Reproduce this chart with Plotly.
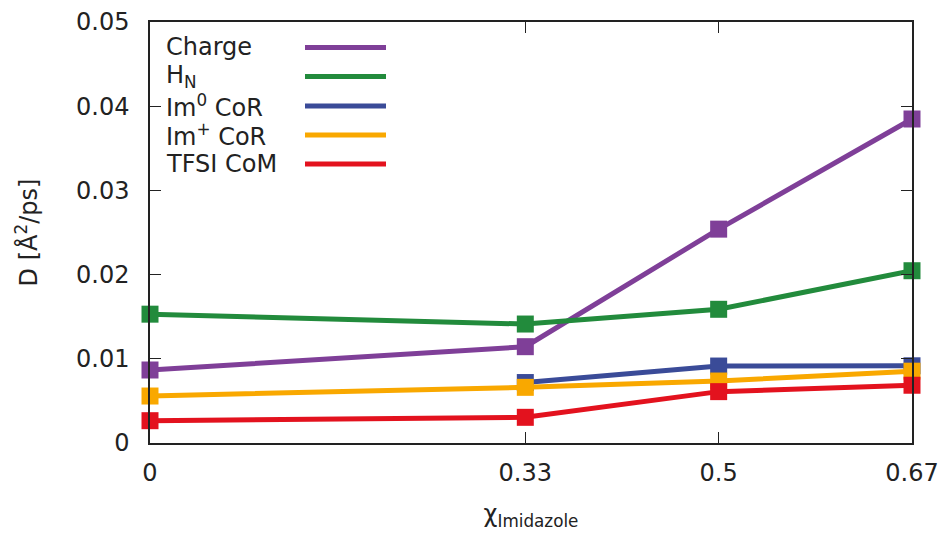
import plotly.graph_objects as go

# Mole fraction of imidazole
x_frac = [0, 0.33, 0.5, 0.67]
x_labels = ["0", "0.33", "0.5", "0.67"]

# Diffusion coefficients, Å^2/ps
d_charge = [0.00867, 0.01144, 0.0254, 0.03848]
d_hn = [0.0153, 0.01413, 0.01588, 0.02046]
d_im0 = [None, 0.00718, 0.00914, 0.00917]
d_implus = [0.00558, 0.00661, 0.00736, 0.00853]
d_tfsi = [0.00265, 0.00305, 0.0061, 0.00686]

series = [
    ("Charge", d_charge, "#7f3f98"),
    ("H<sub>N</sub>", d_hn, "#228b3c"),
    ("Im<sup>0</sup> CoR", d_im0, "#3a4b98"),
    ("Im<sup>+</sup> CoR", d_implus, "#f9a800"),
    ("TFSI CoM", d_tfsi, "#e3121e"),
]

FONT = "DejaVu Sans"
W, H = 948, 535
L, R, T, B = 150, 36, 22, 92

fig = go.Figure()
for name, ys, color in series:
    fig.add_trace(go.Scatter(
        x=x_frac, y=ys, name=name, mode="lines+markers",
        line=dict(color=color, width=5),
        marker=dict(symbol="square", size=17, color=color, line=dict(width=0)),
        cliponaxis=False, showlegend=False,
    ))

# Key drawn in the upper left: label followed by a line sample
pw, ph = W - L - R, H - T - B
def px_x(p):
    return (p - L) / pw
def px_y(p):
    return (H - B - p) / ph

key_rows = [47.5, 76.5, 106, 135, 164]
for (name, ys, color), row in zip(series, key_rows):
    fig.add_annotation(
        x=px_x(164), y=px_y(row), xref="paper", yref="paper",
        text=name, showarrow=False, xanchor="left", yanchor="middle",
        font=dict(family=FONT, size=24, color="#222"),
    )
    fig.add_shape(
        type="line", xref="paper", yref="paper",
        x0=px_x(305), x1=px_x(386), y0=px_y(row), y1=px_y(row),
        line=dict(color=color, width=5),
    )

axis_common = dict(
    showline=True, linecolor="#222", linewidth=1.5, mirror="allticks",
    ticks="inside", ticklen=11, tickwidth=1.2, tickcolor="#222",
    showgrid=False, zeroline=False, automargin=False,
    tickfont=dict(family=FONT, size=24, color="#222"),
)

fig.update_xaxes(
    range=[0, 0.67], tickvals=x_frac, ticktext=x_labels,
    title=dict(text="χ<sub>Imidazole</sub>", font=dict(family=FONT, size=24, color="#222"), standoff=20),
    ticklabelstandoff=7,
    **axis_common,
)
fig.update_yaxes(
    range=[0, 0.05], tickvals=[0, 0.01, 0.02, 0.03, 0.04, 0.05],
    ticktext=["0", "0.01", "0.02", "0.03", "0.04", "0.05"],
    title=dict(text="D [Å<sup>2</sup>/ps]", font=dict(family=FONT, size=24, color="#222"), standoff=32),
    ticklabelstandoff=14,
    **axis_common,
)

fig.update_layout(
    width=W, height=H,
    margin=dict(l=L, r=R, t=T, b=B),
    plot_bgcolor="white", paper_bgcolor="white",
    font=dict(family=FONT, size=24, color="#222"),
)

fig.write_html("out.html")
